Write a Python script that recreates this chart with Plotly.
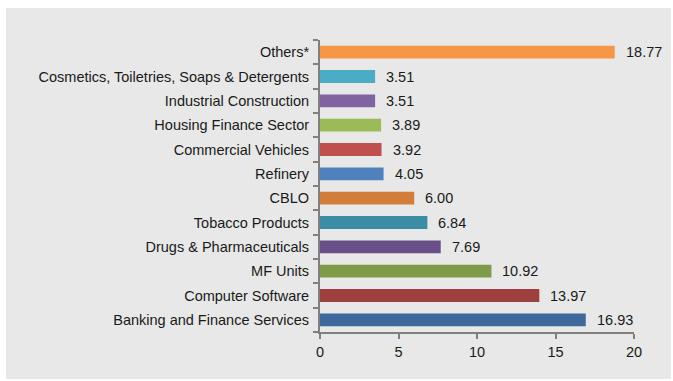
import plotly.graph_objects as go

categories = ["Banking and Finance Services", "Computer Software", "MF Units",
              "Drugs & Pharmaceuticals", "Tobacco Products", "CBLO", "Refinery",
              "Commercial Vehicles", "Housing Finance Sector", "Industrial Construction",
              "Cosmetics, Toiletries, Soaps & Detergents", "Others*"]
values = [16.93, 13.97, 10.92, 7.69, 6.84, 6.00, 4.05, 3.92, 3.89, 3.51, 3.51, 18.77]
colors = ["#3F699D", "#9E413E", "#7F9A48", "#6A4E88", "#3A8DA5", "#D27D3A",
          "#4F81BD", "#C0504D", "#9BBB59", "#8064A2", "#4BACC6", "#F79646"]
x_ticks = [0, 5, 10, 15, 20]

fig = go.Figure(go.Bar(
    x=values, y=categories, orientation="h",
    marker=dict(color=colors, line=dict(width=0)),
    width=0.53,
))

for c, v in zip(categories, values):
    fig.add_annotation(x=v, y=c, text=f"{v:.2f}", showarrow=False,
                       xanchor="left", xshift=9, font=dict(size=14.5, color="#1a1a1a"))

L, R, T, B = 320, 39, 40, 49
W, H = 673, 381
pw, ph = W - L - R, H - T - B
def px(x): return (x - L) / pw
def py(y): return (H - B - y) / ph

fig.add_shape(type="rect", xref="paper", yref="paper",
              x0=px(6), x1=px(671), y0=py(379), y1=py(8),
              fillcolor="#E7E8E7", line=dict(width=0), layer="below")

fig.update_layout(
    width=W, height=H,
    margin=dict(l=L, r=R, t=T, b=B),
    paper_bgcolor="white", plot_bgcolor="rgba(0,0,0,0)",
    font=dict(family="Liberation Sans, Arial, sans-serif", size=14.5, color="#1a1a1a"),
    showlegend=False,
    bargap=0.47,
)
fig.update_xaxes(range=[0, 20], tickvals=x_ticks, showgrid=False, zeroline=False,
                 showline=True, linecolor="#808080", linewidth=2,
                 ticks="outside", ticklen=5, tickcolor="#808080", tickwidth=1.5,
                 tickfont=dict(size=14.5), ticklabelstandoff=1)
fig.update_yaxes(categoryorder="array", categoryarray=categories,
                 showgrid=False, zeroline=False, showline=True, linecolor="#808080",
                 linewidth=2, ticks="outside", ticklen=5, tickcolor="#808080",
                 tickwidth=1.5, tickson="boundaries", tickfont=dict(size=14.5),
                 ticklabelstandoff=6)

fig.write_html("out.html")
